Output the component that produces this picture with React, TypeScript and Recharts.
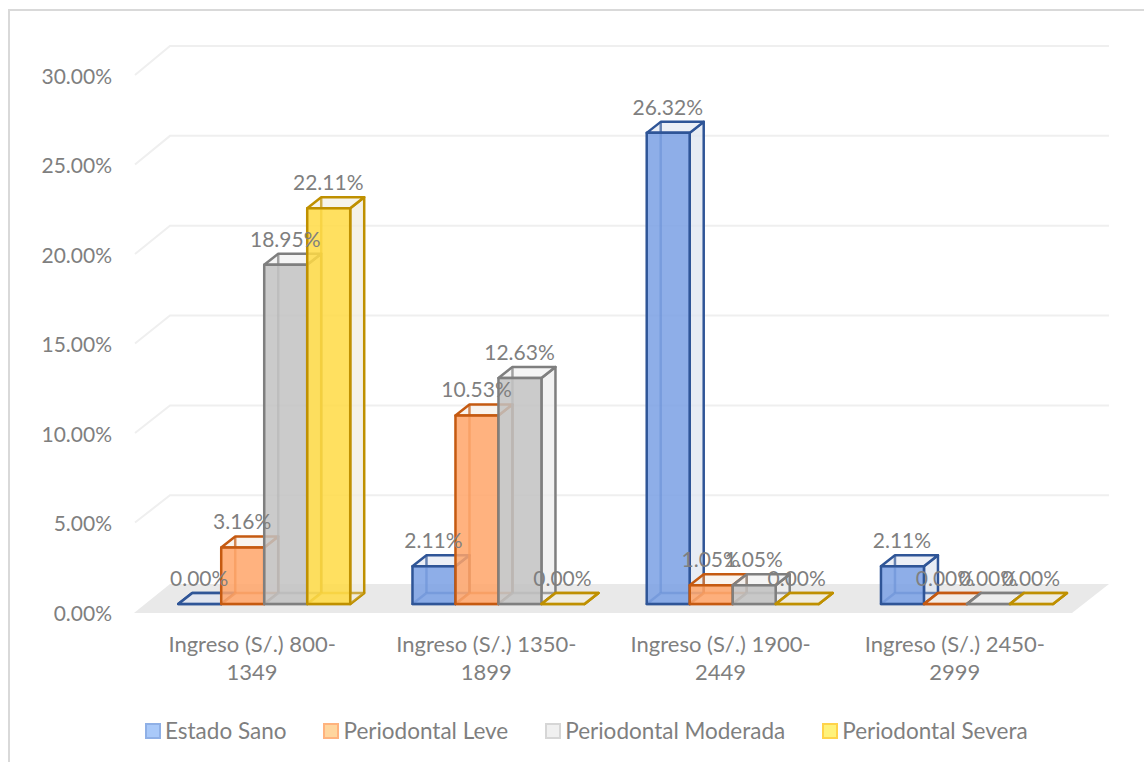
import { BarChart, Bar, XAxis, YAxis, CartesianGrid, Legend } from 'recharts';

const categories = ['Ingreso (S/.) 800-1349', 'Ingreso (S/.) 1350-1899', 'Ingreso (S/.) 1900-2449', 'Ingreso (S/.) 2450-2999'];
const estadoSano = [0, 2.11, 26.32, 2.11];
const periodontalLeve = [3.16, 10.53, 1.05, 0];
const periodontalModerada = [18.95, 12.63, 1.05, 0];
const periodontalSevera = [22.11, 0, 0, 0];
const yTicks = [0, 5, 10, 15, 20, 25, 30];

const chartData = categories.map((name, i) => ({
  name,
  sano: estadoSano[i],
  leve: periodontalLeve[i],
  moderada: periodontalModerada[i],
  severa: periodontalSevera[i],
}));

const seriesList = [
  { key: 'sano', name: 'Estado Sano', front: '#7aa0e4', side: '#dfe5f0', stroke: '#2f5597', swatch: '#a9c9f9', swatchBorder: '#8fb0e6' },
  { key: 'leve', name: 'Periodontal Leve', front: '#ffa569', side: '#f5ece4', stroke: '#c55a11', swatch: '#ffd69e', swatchBorder: '#ffb37e' },
  { key: 'moderada', name: 'Periodontal Moderada', front: '#c2c2c2', side: '#eeeeee', stroke: '#7f7f7f', swatch: '#f0f0f0', swatchBorder: '#d6d6d6' },
  { key: 'severa', name: 'Periodontal Severa', front: '#ffda44', side: '#f0ecdf', stroke: '#bf9000', swatch: '#fff27a', swatchBorder: '#ffd34a' },
];

const FONT = 'Lato, sans-serif';
const GREY = '#7f7f7f';
const W = 1144;
const H = 762;
const margin = { top: 74, right: 72, left: 0, bottom: 0 };
const CATEGORY_GAP = '13.54%';

// 3D look of the Excel chart
const DEPTH_X = 14;
const DEPTH_Y = 11;
const SHIFT_X = 11.5;
const SHIFT_Y = 7;
const EDGE = 2.5;

const make3dBar = (s: (typeof seriesList)[number]) => (props: any) => {
  const x = props.x + SHIFT_X;
  const y = props.y - SHIFT_Y;
  const w = props.width;
  const h = props.height;
  const dx = DEPTH_X;
  const dy = DEPTH_Y;
  const b = y + h;
  return (
    <g strokeLinejoin="round">
      <path
        d={`M${x + w},${b} L${x + w + dx},${b - dy} L${x + w + dx},${y - dy} L${x + w},${y} Z`}
        fill={s.side}
        fillOpacity={0.75}
        stroke={s.stroke}
        strokeWidth={EDGE}
      />
      <path
        d={`M${x},${b} L${x + dx},${b - dy} L${x + w + dx},${b - dy} L${x + w},${b} Z`}
        fill={s.side}
        fillOpacity={0.6}
        stroke={s.stroke}
        strokeOpacity={h > 0 ? 0.7 : 1}
        strokeWidth={EDGE}
      />
      <path
        d={`M${x},${y} L${x + dx},${y - dy} L${x + w + dx},${y - dy} L${x + w},${y} Z`}
        fill={s.side}
        fillOpacity={0.6}
        stroke={s.stroke}
        strokeWidth={EDGE}
      />
      <path d={`M${x + dx},${b - dy} L${x + dx},${y - dy}`} stroke={s.stroke} strokeOpacity={0.7} strokeWidth={EDGE} />
      <rect x={x} y={y} width={w} height={h} fill={s.front} fillOpacity={0.85} stroke={s.stroke} strokeWidth={EDGE} />
    </g>
  );
};

// LabelList skips the zero bars, so the labels are the shape of the top chart's bars
const makeValueLabel = (key: string) => (props: any) => (
  <text
    x={props.x + props.width / 2 + SHIFT_X - 0.5}
    y={props.y - SHIFT_Y - 26}
    textAnchor="middle"
    dominantBaseline="central"
    fill={GREY}
    fontFamily={FONT}
    fontSize={21}
  >
    {`${Number(props.payload[key]).toFixed(2)}%`}
  </text>
);

// back wall lines and the floor, drawn from the gridline positions of the axis
const gridLine = (props: any) => {
  const { y1, x1, x2 } = props;
  if (y1 > 600) {
    return (
      <polygon
        key={`floor-${y1}`}
        points={`${x1 - 1},${y1 + 2} ${x2},${y1 + 2} ${x2 + 37},${y1 - 27} ${x1 + 35},${y1 - 27}`}
        fill="#e9e9e9"
      />
    );
  }
  const backY = y1 - 28 + (y1 - margin.top) * 0.004;
  return (
    <polyline
      key={`grid-${y1}`}
      points={`${x1},${y1 + 1} ${x1 + 35},${backY} ${x2 + 37},${backY}`}
      fill="none"
      stroke="#efefef"
      strokeWidth={2}
    />
  );
};

const xTick = (props: any) => {
  const { x, y, payload } = props;
  const cut = payload.value.indexOf('-') + 1;
  return (
    <text textAnchor="middle" fill={GREY} fontFamily={FONT} fontSize={22}>
      <tspan x={x} y={y + 33}>{payload.value.slice(0, cut)}</tspan>
      <tspan x={x} y={y + 61}>{payload.value.slice(cut)}</tspan>
    </text>
  );
};

const yTick = (props: any) => (
  <text
    x={112}
    y={props.y + 1}
    textAnchor="end"
    dominantBaseline="central"
    fill={GREY}
    fontFamily={FONT}
    fontSize={21}
  >
    {`${props.payload.value.toFixed(2)}%`}
  </text>
);

const legendContent = () => (
  <div style={{ display: 'flex', fontFamily: FONT, fontSize: 22.5, color: GREY, lineHeight: '24px' }}>
    {seriesList.map((s) => (
      <div key={s.key} style={{ display: 'flex', alignItems: 'center', marginRight: 37 }}>
        <span
          style={{
            width: 12,
            height: 12,
            marginRight: 4,
            background: s.swatch,
            border: `2px solid ${s.swatchBorder}`,
          }}
        />
        <span>{s.name}</span>
      </div>
    ))}
  </div>
);

export default function App() {
  return (
    <div style={{ position: 'absolute', left: 0, top: 0, width: W, height: H, overflow: 'hidden', background: '#fff' }}>
      <div
        style={{
          position: 'absolute',
          left: 8,
          top: 9,
          width: 1200,
          height: 800,
          border: '2px solid #d9d9d9',
          boxSizing: 'border-box',
        }}
      />
      <div style={{ position: 'absolute', left: 0, top: 0 }}>
        <BarChart width={W} height={H} data={chartData} margin={margin} barCategoryGap={CATEGORY_GAP} barGap={0}>
          <CartesianGrid vertical={false} horizontal={gridLine} />
          <XAxis dataKey="name" axisLine={false} tickLine={false} height={127} tick={xTick} interval={0} />
          <YAxis width={135} domain={[0, 30]} ticks={yTicks} axisLine={false} tickLine={false} tick={yTick} />
          <Legend
            verticalAlign="bottom"
            content={legendContent}
            wrapperStyle={{ position: 'absolute', left: 145, top: 719, bottom: 'auto', width: 950 }}
          />
          {seriesList.map((s) => (
            <Bar key={s.key} dataKey={s.key} name={s.name} shape={make3dBar(s)} isAnimationActive={false} />
          ))}
        </BarChart>
      </div>
      {/* second chart on top, so the value labels sit over every bar */}
      <div style={{ position: 'absolute', left: 0, top: 0 }}>
        <BarChart width={W} height={H} data={chartData} margin={margin} barCategoryGap={CATEGORY_GAP} barGap={0}>
          <XAxis dataKey="name" height={152} tick={false} axisLine={false} tickLine={false} />
          <YAxis width={135} domain={[0, 30]} ticks={yTicks} tick={false} axisLine={false} tickLine={false} />
          {seriesList.map((s) => (
            <Bar key={s.key} dataKey={s.key} shape={makeValueLabel(s.key)} isAnimationActive={false} />
          ))}
        </BarChart>
      </div>
    </div>
  );
}
